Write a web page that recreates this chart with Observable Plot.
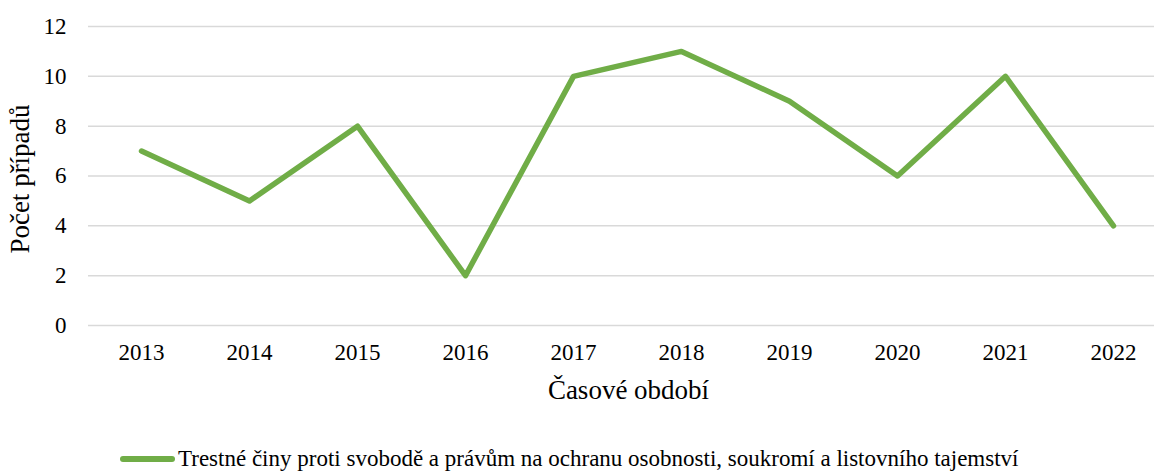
<!DOCTYPE html>
<html><head><meta charset="utf-8">
<script src="https://cdn.jsdelivr.net/npm/d3@7"></script>
<script src="https://cdn.jsdelivr.net/npm/@observablehq/plot@0.6"></script>
<style>
body{margin:0;background:#fff;font-family:"Liberation Serif","Times New Roman",serif;position:relative;width:1154px;height:471px;overflow:hidden}
#chart svg, #chart svg text{font-family:"Liberation Serif","Times New Roman",serif !important}
#legend{position:absolute;left:120px;top:446px;display:flex;align-items:center;font-size:23px;color:#000;white-space:nowrap}
#legend .sw{display:inline-block;width:55px;height:5.5px;border-radius:3px;margin-right:3px}
</style>
</head><body><div id="chart"></div><div id="legend"></div>
<script>
const years = ["2013","2014","2015","2016","2017","2018","2019","2020","2021","2022"];
const cases = [7,5,8,2,10,11,9,6,10,4];
const yTicks = [0,2,4,6,8,10,12];
const seriesName = "Trestné činy proti svobodě a právům na ochranu osobnosti, soukromí a listovního tajemství";
const xTitle = "Časové období";
const yTitle = "Počet případů";
const lineColor = "#70ad47";
const gridColor = "#d9d9d9";

const data = years.map((y, i) => ({year: y, value: cases[i]}));

const chart = Plot.plot({
  width: 1154, height: 430,
  marginTop: 26, marginBottom: 105, marginLeft: 88, marginRight: 0,
  style: 'font-family: "Liberation Serif", "Times New Roman", serif; font-size: 23px; color: #000; background: #fff;',
  x: {type: "point", domain: years, range: [141, 1113], padding: 0, label: null},
  y: {domain: [0, 12], range: [325, 26], label: null},
  marks: [
    Plot.ruleY(yTicks, {stroke: gridColor, strokeWidth: 1.5}),
    Plot.axisY({ticks: yTicks, tickSize: 0, tickPadding: 22, label: null, fontSize: 23}),
    Plot.axisX({tickSize: 0, tickPadding: 18, label: null, fontSize: 23}),
    Plot.lineY(data, {x: "year", y: "value", stroke: lineColor, strokeWidth: 5.5, strokeLinecap: "round", strokeLinejoin: "round"}),
    Plot.text([xTitle], {frameAnchor: "bottom", textAnchor: "middle", dx: 7, dy: 73, fontSize: 27, fill: "#000"}),
    Plot.text([yTitle], {frameAnchor: "left", textAnchor: "middle", rotate: -90, dx: -68, dy: 3, fontSize: 27, fill: "#000"})
  ]
});
document.getElementById("chart").appendChild(chart);

const lg = document.getElementById("legend");
const sw = document.createElement("span");
sw.className = "sw"; sw.style.background = lineColor;
const tx = document.createElement("span");
tx.textContent = seriesName;
lg.appendChild(sw); lg.appendChild(tx);
</script>
</body></html>
